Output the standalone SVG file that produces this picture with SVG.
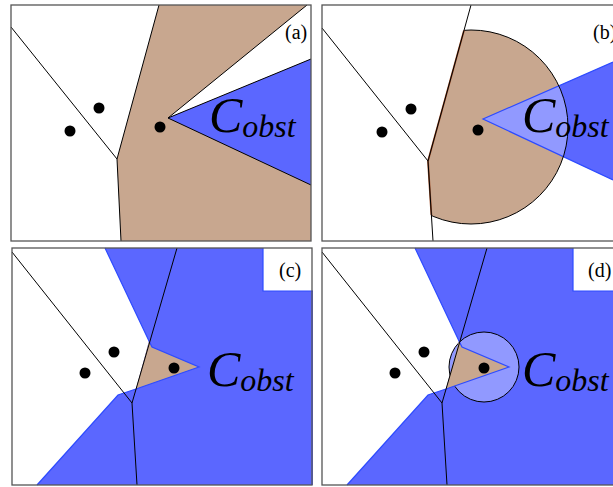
<svg xmlns="http://www.w3.org/2000/svg" width="613" height="487" viewBox="0 0 613 487">
<style>
.bg{fill:#fff}
.frame{fill:none;stroke:#555;stroke-width:1.3}
.vor{fill:none;stroke:#000;stroke-width:1}
.tan{fill:#c8a78f}
.blue{fill:#5b67ff}
.lblue{fill:#9199ff}
.bedge{fill:none;stroke:#2d4bff;stroke-width:1.2}
.dot{fill:#000}
.big{font-family:"Liberation Serif",serif;font-style:italic;font-size:50px;fill:#000}
.sub{font-size:32px}
.lab{font-family:"Liberation Serif",serif;font-size:20px;fill:#000}
</style>
<defs>
<clipPath id="cellB"><polygon points="471,5 613,5 613,241 433,241 428,161"/></clipPath>
<clipPath id="circB"><circle cx="471" cy="127" r="97"/></clipPath>
</defs>

<g id="panel-a">
<rect class="bg" x="11" y="5" width="300" height="236"/>
<polygon class="tan" points="159,5 311,5 311,241 121,241 117,159"/>
<polygon class="bg" points="168,118 307,5 311,5 311,59"/>
<polygon class="blue" points="168,118 311,59 311,185"/>
<polyline class="vor" points="307,5 168,118 311,59"/>
<line class="vor" x1="168" y1="118" x2="311" y2="185"/>
<line class="vor" x1="11" y1="27" x2="117" y2="159"/>
<polyline class="vor" points="159,5 117,159 121,241"/>
<rect class="frame" x="11" y="5" width="300" height="236"/>
<circle class="dot" cx="70" cy="131" r="5.5"/>
<circle class="dot" cx="99" cy="108" r="5.5"/>
<circle class="dot" cx="160" cy="127" r="5.5"/>
<text class="big" x="209" y="132">C<tspan class="sub" dy="5">obst</tspan></text>
<text class="lab" x="285" y="39">(a)</text>
</g>

<g id="panel-b">
<rect class="bg" x="322" y="5" width="300" height="236"/>
<circle class="tan" cx="471" cy="127" r="97" clip-path="url(#cellB)"/>
<polygon class="blue" points="483,119 613,62 613,180"/>
<polygon class="lblue" points="483,119 613,62 613,180" clip-path="url(#circB)"/>
<polyline class="bedge" points="613,62 483,119 613,180"/>
<circle cx="471" cy="127" r="97" fill="none" stroke="#000" stroke-width="1" clip-path="url(#cellB)"/>
<polyline fill="none" stroke="#a0522d" stroke-width="1.8" points="471,5 428,161 433,241" clip-path="url(#circB)"/>
<line class="vor" x1="322" y1="28" x2="428" y2="161"/>
<polyline class="vor" points="471,5 428,161 433,241"/>
<rect class="frame" x="322" y="5" width="300" height="236"/>
<circle class="dot" cx="382" cy="132" r="5.5"/>
<circle class="dot" cx="411" cy="109" r="5.5"/>
<circle class="dot" cx="478" cy="130" r="5.5"/>
<text class="big" x="522" y="132">C<tspan class="sub" dy="5">obst</tspan></text>
<text class="lab" x="593" y="39">(b)</text>
</g>

<g id="panel-c">
<rect class="bg" x="12" y="248" width="300" height="237"/>
<polygon class="blue" points="105,248 263,248 263,291 313,291 313,485 37,485 118,395 136,389 149,341"/>
<polygon class="tan" points="149,341 152,347 199,367 136,389"/>
<polyline class="bedge" points="105,248 149,341 152,347 199,367 136,389 118,395 37,485"/>
<polyline class="bedge" points="263,248 263,291 313,291"/>
<line class="vor" x1="12" y1="252" x2="132" y2="403"/>
<polyline class="vor" points="177,248 132,403 137,485"/>
<rect class="frame" x="12" y="248" width="300" height="237"/>
<circle class="dot" cx="114" cy="352" r="5.5"/>
<circle class="dot" cx="85" cy="373" r="5.5"/>
<circle class="dot" cx="174" cy="368" r="5.5"/>
<text class="big" x="207" y="386">C<tspan class="sub" dy="5">obst</tspan></text>
<text class="lab" x="279" y="277">(c)</text>
</g>

<g id="panel-d" transform="translate(310,0)">
<rect class="bg" x="12" y="248" width="300" height="237"/>
<polygon class="blue" points="105,248 263,248 263,291 313,291 313,485 37,485 118,395 136,389 149,341"/>
<circle class="lblue" cx="174" cy="367" r="35" stroke="#000" stroke-width="1"/>
<polygon class="tan" points="149,341 152,347 199,367 136,389"/>
<polyline class="bedge" points="105,248 149,341 152,347 199,367 136,389 118,395 37,485"/>
<polyline class="bedge" points="263,248 263,291 313,291"/>
<line class="vor" x1="12" y1="252" x2="132" y2="403"/>
<polyline class="vor" points="177,248 132,403 137,485"/>
<rect class="frame" x="12" y="248" width="300" height="237"/>
<circle class="dot" cx="114" cy="352" r="5.5"/>
<circle class="dot" cx="85" cy="373" r="5.5"/>
<circle class="dot" cx="174" cy="368" r="5.5"/>
<text class="big" x="212" y="386">C<tspan class="sub" dy="5">obst</tspan></text>
<text class="lab" x="278" y="277">(d)</text>
</g>
</svg>
